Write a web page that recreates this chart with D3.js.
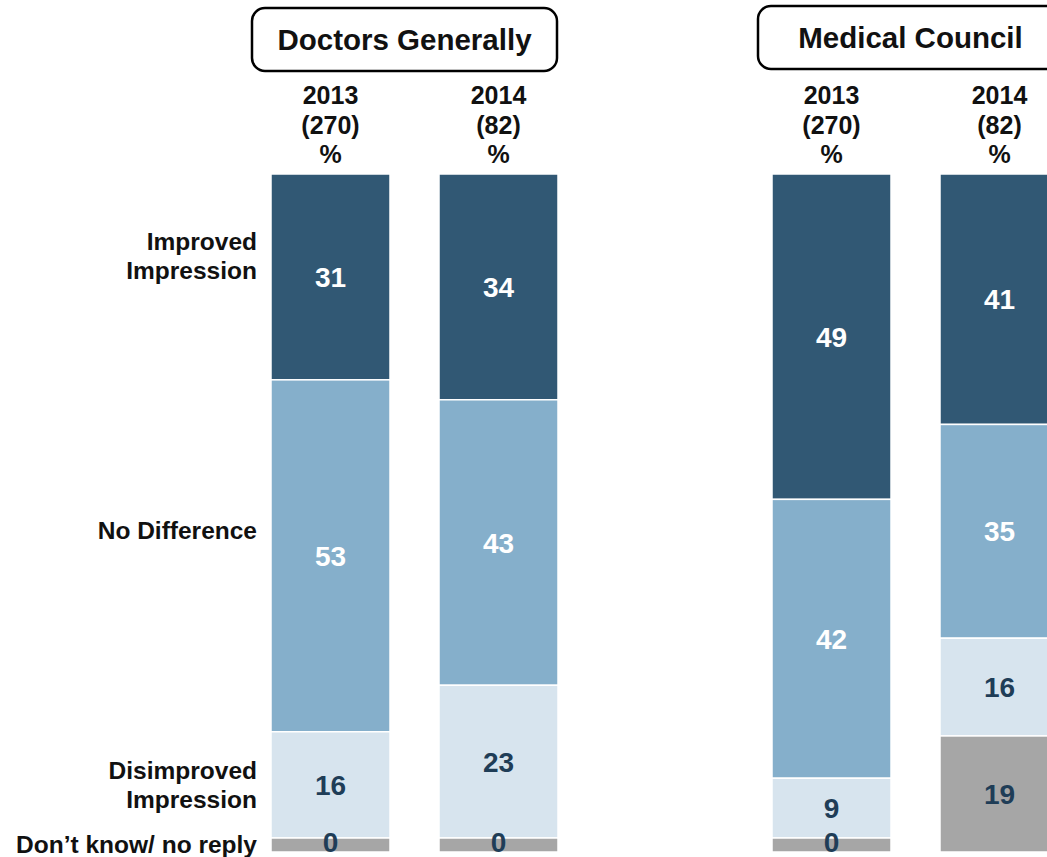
<!DOCTYPE html>
<html>
<head>
<meta charset="utf-8">
<script src="https://cdn.jsdelivr.net/npm/d3@7"></script>
<style>
  html, body { margin: 0; padding: 0; background: #fff; }
  svg { display: block; }
  text { font-family: "Liberation Sans", Arial, sans-serif; font-weight: bold; }
</style>
</head>
<body>
<svg id="chart" width="1047" height="857"></svg>
<script>
// ---- data ----
const groups = ["Doctors Generally", "Medical Council"];
const years = ["2013", "2014"];
const bases = ["(270)", "(82)"];
const categories = ["Improved Impression", "No Difference", "Disimproved Impression", "Don\u2019t know/ no reply"];
const categoryLines = [["Improved", "Impression"], ["No Difference"], ["Disimproved", "Impression"], ["Don\u2019t know/ no reply"]];
const doctors2013 = [31, 53, 16, 0];
const doctors2014 = [34, 43, 23, 0];
const council2013 = [49, 42, 9, 0];
const council2014 = [41, 35, 16, 19];

const series = [
  { group: groups[0], year: years[0], base: bases[0], values: doctors2013 },
  { group: groups[0], year: years[1], base: bases[1], values: doctors2014 },
  { group: groups[1], year: years[0], base: bases[0], values: council2013 },
  { group: groups[1], year: years[1], base: bases[1], values: council2014 }
];

// ---- style ----
const colors = ["#315874", "#85AFCB", "#D7E4EE", "#A6A6A6"];
const labelColors = ["#ffffff", "#ffffff", "#1F3D57", "#1F3D57"];
const barTop = 174, barBottom = 852, zeroStub = 14;

const svg = d3.select("#chart");

const xGroup = d3.scaleBand().domain(groups).range([271, 1059]).paddingInner(214 / 501).paddingOuter(0);
const xYear = d3.scaleBand().domain(years).range([0, xGroup.bandwidth()]).paddingInner(49 / 168).paddingOuter(0);

// ---- bars ----
series.forEach((s, si) => {
  const x0 = xGroup(s.group) + xYear(s.year);
  const w = xYear.bandwidth();
  const last = s.values[s.values.length - 1];
  const total = d3.sum(s.values);
  const y = d3.scaleLinear().domain([0, total]).range([barTop, barBottom - (last === 0 ? zeroStub : 0)]);
  const stack = d3.cumsum(s.values);
  const segs = s.values.map((v, i) => {
    const start = i === 0 ? 0 : stack[i - 1];
    let y0 = y(start), y1 = y(start + v);
    if (v === 0) { y0 = y(start); y1 = y0 + zeroStub; }
    return { v, i, y0, y1 };
  });
  const g = svg.append("g");
  g.selectAll("rect").data(segs).join("rect")
    .attr("x", x0).attr("width", w)
    .attr("y", d => d.y0).attr("height", d => Math.max(0, d.y1 - d.y0))
    .attr("fill", d => colors[d.i])
    .attr("stroke", "#ffffff").attr("stroke-width", 1.5);
  g.selectAll("text.val").data(segs).join("text")
    .attr("class", "val")
    .attr("x", x0 + w / 2)
    .attr("y", d => (d.y0 + d.y1) / 2 - (d.v === 0 ? 3 : 0))
    .attr("dy", "0.36em")
    .attr("text-anchor", "middle")
    .attr("font-size", 28)
    .attr("fill", d => labelColors[d.i])
    .text(d => d.v);

  // column header
  const hdr = svg.append("text")
    .attr("x", x0 + w / 2).attr("y", 104)
    .attr("text-anchor", "middle").attr("font-size", 25).attr("fill", "#111");
  [s.year, s.base, "%"].forEach((t, k) => {
    hdr.append("tspan").attr("x", x0 + w / 2).attr("dy", k === 0 ? 0 : 29.5).text(t);
  });
});

// ---- group title boxes ----
const boxW = 305, boxH = 63;
groups.forEach((gname, gi) => {
  const cx = xGroup(gname) + xGroup.bandwidth() / 2 - (gi === 0 ? 10 : 5);
  const top = gi === 0 ? 8 : 6;
  svg.append("rect")
    .attr("x", cx - boxW / 2).attr("y", top)
    .attr("width", boxW).attr("height", boxH)
    .attr("rx", 13).attr("ry", 13)
    .attr("fill", "#fff").attr("stroke", "#000").attr("stroke-width", 2.5);
  svg.append("text")
    .attr("x", cx).attr("y", top + boxH / 2).attr("dy", "0.36em")
    .attr("text-anchor", "middle").attr("font-size", 29.5).attr("fill", "#111")
    .text(gname);
});

// ---- category labels (aligned to first bar) ----
const first = series[0];
const yFirst = d3.scaleLinear().domain([0, d3.sum(first.values)]).range([barTop, barBottom - zeroStub]);
const firstStack = d3.cumsum(first.values);
const labelOffsets = [-21, -26, 0, -1];
categoryLines.forEach((lines, i) => {
  const start = i === 0 ? 0 : firstStack[i - 1];
  const v = first.values[i];
  const c = v === 0 ? yFirst(start) + zeroStub / 2 : (yFirst(start) + yFirst(start + v)) / 2;
  const lh = 29;
  const yc = c + labelOffsets[i];
  const t = svg.append("text")
    .attr("x", 257).attr("text-anchor", "end").attr("font-size", 24.5).attr("fill", "#111");
  lines.forEach((ln, k) => {
    t.append("tspan").attr("x", 257)
      .attr("y", yc - (lines.length - 1) * lh / 2 + k * lh)
      .attr("dy", "0.36em").text(ln);
  });
});
</script>
</body>
</html>
